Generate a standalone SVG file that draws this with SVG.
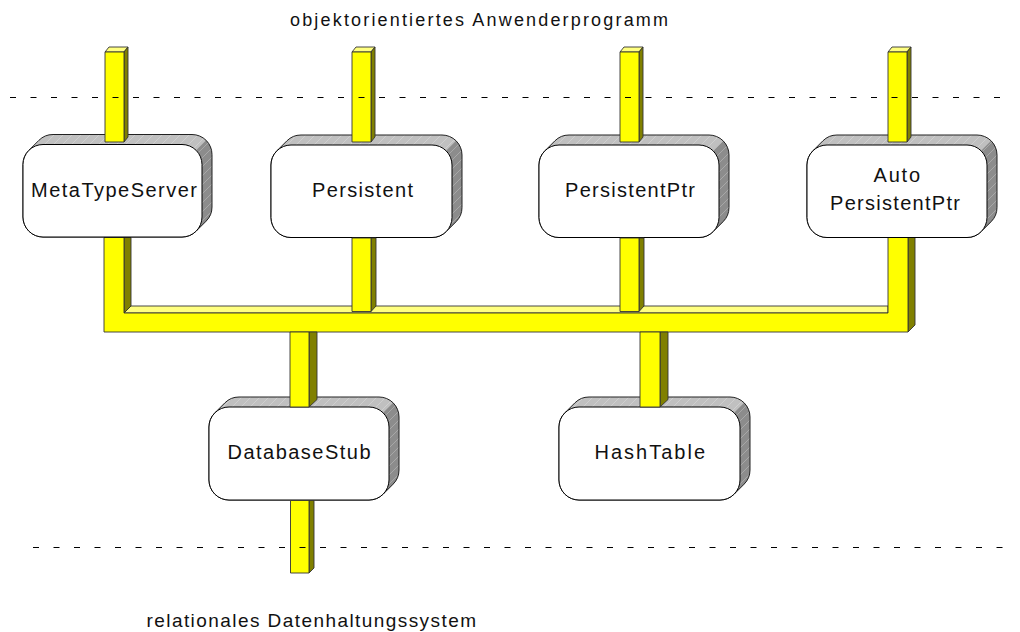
<svg xmlns="http://www.w3.org/2000/svg" width="1020" height="632" viewBox="0 0 1020 632">
<style>
.txt{font-family:"Liberation Sans",Arial,sans-serif;fill:#111;}
.lbl{font-size:20px;}
.light{fill:#c0c0c0;stroke:none;}
.dark{fill:#8c8c8c;stroke:none;}
.hatch{fill:url(#hatch);stroke:#222;stroke-width:1;}
.front{fill:#fff;stroke:#000;stroke-width:1;}
.pf{fill:#ffff00;stroke:#333;stroke-width:0.9;stroke-linejoin:round;}
.ps{fill:#808000;stroke:#333;stroke-width:0.9;stroke-linejoin:round;}
.pt{fill:#ffff80;stroke:#333;stroke-width:0.9;stroke-linejoin:round;}
.dash{stroke:#000;stroke-width:1;stroke-dasharray:6 14.5;fill:none;}
</style>
<defs>
<pattern id="hatch" patternUnits="userSpaceOnUse" width="9" height="9">
<line x1="0" y1="9" x2="9" y2="0" stroke="#fff" stroke-opacity="0.3" stroke-width="0.8"/>
</pattern>
<path id="h1" d="M28.86,150.36 L38.86,140.36 A20,20 0 0 1 53,134.5 L192,134.5 A20,20 0 0 1 212,154.5 L212,207 A20,20 0 0 1 206.14,221.14 L196.14,231.14 A20,20 0 0 1 182,237 L43,237 A20,20 0 0 1 23,217 L23,164.5 A20,20 0 0 1 28.86,150.36 Z"/>
<path id="h2" d="M276.86,150.86 L286.86,140.86 A20,20 0 0 1 301,135 L442,135 A20,20 0 0 1 462,155 L462,207.5 A20,20 0 0 1 456.14,221.64 L446.14,231.64 A20,20 0 0 1 432,237.5 L291,237.5 A20,20 0 0 1 271,217.5 L271,165 A20,20 0 0 1 276.86,150.86 Z"/>
<path id="h3" d="M544.86,150.86 L554.86,140.86 A20,20 0 0 1 569,135 L709,135 A20,20 0 0 1 729,155 L729,207.5 A20,20 0 0 1 723.14,221.64 L713.14,231.64 A20,20 0 0 1 699,237.5 L559,237.5 A20,20 0 0 1 539,217.5 L539,165 A20,20 0 0 1 544.86,150.86 Z"/>
<path id="h4" d="M812.86,150.86 L822.86,140.86 A20,20 0 0 1 837,135 L977,135 A20,20 0 0 1 997,155 L997,207.5 A20,20 0 0 1 991.14,221.64 L981.14,231.64 A20,20 0 0 1 967,237.5 L827,237.5 A20,20 0 0 1 807,217.5 L807,165 A20,20 0 0 1 812.86,150.86 Z"/>
<path id="h5" d="M214.86,412.86 L224.86,402.86 A20,20 0 0 1 239,397 L379,397 A20,20 0 0 1 399,417 L399,470 A20,20 0 0 1 393.14,484.14 L383.14,494.14 A20,20 0 0 1 369,500 L229,500 A20,20 0 0 1 209,480 L209,427 A20,20 0 0 1 214.86,412.86 Z"/>
<path id="h6" d="M564.86,412.86 L574.86,402.86 A20,20 0 0 1 589,397 L730,397 A20,20 0 0 1 750,417 L750,470 A20,20 0 0 1 744.14,484.14 L734.14,494.14 A20,20 0 0 1 720,500 L579,500 A20,20 0 0 1 559,480 L559,427 A20,20 0 0 1 564.86,412.86 Z"/>
</defs>

<g id="connectors">
<g id="bus">
<path class="pt" d="M124,313 L131,306 L888,306 L888,313 Z"/>
<path class="ps" d="M124,237.5 L131,237.5 L131,306 L124,313 Z"/>
<path class="ps" d="M908,237.5 L915,237.5 L915,325 L908,332 Z"/>
<path class="pf" d="M104,237.5 L124,237.5 L124,313 L888,313 L888,237.5 L908,237.5 L908,332 L104,332 Z"/>
</g>
</g>

<g id="node-metatypeserver">
<use href="#h1" class="light"/>
<path class="dark" d="M196.14,150.36 L206.14,140.36 A20,20 0 0 1 212,154.5 L212,207 A20,20 0 0 1 206.14,221.14 L196.14,231.14 Z"/>
<use href="#h1" class="hatch"/>
<rect class="front" x="23" y="144.5" width="179" height="92.5" rx="20" ry="20"/>
<text class="txt lbl" x="31" y="197" textLength="166" lengthAdjust="spacing">MetaTypeServer</text>
</g>

<g id="node-persistent">
<use href="#h2" class="light"/>
<path class="dark" d="M446.14,150.86 L456.14,140.86 A20,20 0 0 1 462,155 L462,207.5 A20,20 0 0 1 456.14,221.64 L446.14,231.64 Z"/>
<use href="#h2" class="hatch"/>
<rect class="front" x="271" y="145" width="181" height="92.5" rx="20" ry="20"/>
<text class="txt lbl" x="312" y="197" textLength="101" lengthAdjust="spacing">Persistent</text>
</g>

<g id="node-persistentptr">
<use href="#h3" class="light"/>
<path class="dark" d="M713.14,150.86 L723.14,140.86 A20,20 0 0 1 729,155 L729,207.5 A20,20 0 0 1 723.14,221.64 L713.14,231.64 Z"/>
<use href="#h3" class="hatch"/>
<rect class="front" x="539" y="145" width="180" height="92.5" rx="20" ry="20"/>
<text class="txt lbl" x="565" y="197" textLength="130" lengthAdjust="spacing">PersistentPtr</text>
</g>

<g id="node-autopersistentptr">
<use href="#h4" class="light"/>
<path class="dark" d="M981.14,150.86 L991.14,140.86 A20,20 0 0 1 997,155 L997,207.5 A20,20 0 0 1 991.14,221.64 L981.14,231.64 Z"/>
<use href="#h4" class="hatch"/>
<rect class="front" x="807" y="145" width="180" height="92.5" rx="20" ry="20"/>
<text class="txt lbl" x="873.5" y="182" textLength="46.5" lengthAdjust="spacing">Auto</text>
<text class="txt lbl" x="830" y="210" textLength="130" lengthAdjust="spacing">PersistentPtr</text>
</g>

<g id="node-databasestub">
<use href="#h5" class="light"/>
<path class="dark" d="M383.14,412.86 L393.14,402.86 A20,20 0 0 1 399,417 L399,470 A20,20 0 0 1 393.14,484.14 L383.14,494.14 Z"/>
<use href="#h5" class="hatch"/>
<rect class="front" x="209" y="407" width="180" height="93" rx="20" ry="20"/>
<text class="txt lbl" x="227.5" y="458.5" textLength="143" lengthAdjust="spacing">DatabaseStub</text>
</g>

<g id="node-hashtable">
<use href="#h6" class="light"/>
<path class="dark" d="M734.14,412.86 L744.14,402.86 A20,20 0 0 1 750,417 L750,470 A20,20 0 0 1 744.14,484.14 L734.14,494.14 Z"/>
<use href="#h6" class="hatch"/>
<rect class="front" x="559" y="407" width="181" height="93" rx="20" ry="20"/>
<text class="txt lbl" x="594.5" y="459" textLength="110.5" lengthAdjust="spacing">HashTable</text>
</g>

<g id="pillars">
<g id="p-mts-top">
<path class="pt" d="M105,52 L109,47 L128,47 L124,52 Z"/>
<path class="ps" d="M124,52 L128,47 L128,137 L124,142 Z"/>
<rect class="pf" x="105" y="52" width="19" height="90"/>
</g>
<g id="p-pers-top">
<path class="pt" d="M352,52 L356,47 L375,47 L371,52 Z"/>
<path class="ps" d="M371,52 L375,47 L375,137 L371,142 Z"/>
<rect class="pf" x="352" y="52" width="19" height="90"/>
</g>
<g id="p-ptr-top">
<path class="pt" d="M620,52 L624,47 L643,47 L639,52 Z"/>
<path class="ps" d="M639,52 L643,47 L643,137 L639,142 Z"/>
<rect class="pf" x="620" y="52" width="19" height="90"/>
</g>
<g id="p-auto-top">
<path class="pt" d="M888,52 L892,47 L911,47 L907,52 Z"/>
<path class="ps" d="M907,52 L911,47 L911,137 L907,142 Z"/>
<rect class="pf" x="888" y="52" width="19" height="90"/>
</g>
<g id="p-pers-bus">
<path class="ps" d="M371,238 L376,238 L376,306 L371,311.5 Z"/>
<rect class="pf" x="352" y="238" width="19" height="73.5"/>
</g>
<g id="p-ptr-bus">
<path class="ps" d="M639,238 L644,238 L644,306 L639,311.5 Z"/>
<rect class="pf" x="620" y="238" width="19" height="73.5"/>
</g>
<g id="p-bus-db">
<path class="ps" d="M309,332 L317,332 L317,399.5 L309,407 Z"/>
<rect class="pf" x="290" y="332" width="19" height="75"/>
</g>
<g id="p-bus-hash">
<path class="ps" d="M660,332 L668,332 L668,399.5 L660,407 Z"/>
<rect class="pf" x="640" y="332" width="20" height="75"/>
</g>
<g id="p-db-bottom">
<path class="ps" d="M309,500.5 L314,500.5 L314,568 L309,573 Z"/>
<rect class="pf" x="290.5" y="500.5" width="18.5" height="72.5"/>
</g>
</g>

<g id="layers">
<line class="dash" x1="10" y1="97.5" x2="1012" y2="97.5"/>
<line class="dash" x1="33" y1="547.5" x2="1012" y2="547.5"/>
<text class="txt" style="font-size:18px" x="290" y="26" textLength="378" lengthAdjust="spacing">objektorientiertes Anwenderprogramm</text>
<text class="txt" style="font-size:19px" x="146.5" y="627" textLength="329.5" lengthAdjust="spacing">relationales Datenhaltungssystem</text>
</g>
</svg>
